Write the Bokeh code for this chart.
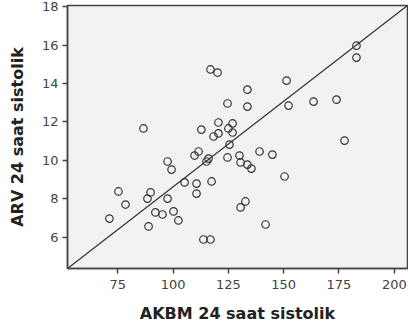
from bokeh.plotting import figure
from bokeh.models import Range1d, FixedTicker, ColumnDataSource
from bokeh.embed import file_html
from bokeh.resources import INLINE

# Data
akbm_sys = [71.2, 75.3, 78.5, 88.4, 89.8, 88.9, 92.0, 95.2, 97.5, 100.2,
            102.4, 105.2, 110.6, 110.6, 113.7, 116.9, 97.5, 99.3, 117.4, 150.4,
            132.7, 130.5, 141.8, 86.6, 112.8, 109.7, 111.5, 115.1, 116.0, 124.6,
            120.5, 118.3, 120.5, 125.0, 126.9, 126.9, 125.5, 124.6, 130.0, 130.5,
            133.6, 135.4, 139.1, 144.9, 116.9, 120.1, 133.6, 133.6, 151.3, 152.2,
            163.5, 173.9, 182.9, 182.9, 177.5]
arv_sys = [6.97, 8.38, 7.70, 8.01, 8.33, 6.56, 7.29, 7.18, 8.01, 7.34,
           6.87, 8.85, 8.79, 8.27, 5.88, 5.88, 9.94, 9.52, 8.90, 9.16,
           7.86, 7.55, 6.66, 11.66, 11.60, 10.25, 10.46, 9.94, 10.09, 12.96,
           11.97, 11.24, 11.40, 11.66, 11.92, 11.45, 10.82, 10.15, 10.25, 9.89,
           9.78, 9.57, 10.46, 10.30, 14.73, 14.57, 13.68, 12.80, 14.15, 12.85,
           13.06, 13.16, 15.97, 15.35, 11.03]

x_ticks = [75, 100, 125, 150, 175, 200]
y_ticks = [6, 8, 10, 12, 14, 16, 18]
x_lim = [52.26, 205.97]
y_lim = [4.37, 18.06]

x_title = "AKBM 24 saat sistolik"
y_title = "ARV 24 saat sistolik"

p = figure(width=408, height=334, output_backend="svg", toolbar_location=None,
           x_range=Range1d(x_lim[0], x_lim[1]), y_range=Range1d(y_lim[0], y_lim[1]),
           min_border_left=67, min_border_right=1, min_border_top=5,
           min_border_bottom=66)

p.background_fill_color = "#f2f2f2"
p.border_fill_color = "white"
p.outline_line_color = "#444444"
p.outline_line_width = 1.5
p.xgrid.visible = False
p.ygrid.visible = False

# reference line (corner to corner)
p.line(x=x_lim, y=y_lim, line_color="#333333", line_width=1.2)

src = ColumnDataSource(dict(x=akbm_sys, y=arv_sys))
p.scatter("x", "y", source=src, marker="circle", size=7.5, fill_color=None,
          line_color="#333333", line_width=1.2)

for ax, ticks in ((p.xaxis[0], x_ticks), (p.yaxis[0], y_ticks)):
    ax.ticker = FixedTicker(ticks=ticks)
    ax.axis_line_color = "#444444"
    ax.axis_line_width = 1.5
    ax.major_tick_line_color = "#444444"
    ax.major_tick_line_width = 1.5
    ax.major_tick_out = 5
    ax.major_tick_in = 0
    ax.minor_tick_line_color = None
    ax.major_label_text_font = "DejaVu Sans"
    ax.major_label_text_font_size = "13px"
    ax.major_label_text_color = "#444444"
    ax.axis_label_text_font = "DejaVu Sans"
    ax.axis_label_text_font_size = "16px"
    ax.axis_label_text_font_style = "bold"
    ax.axis_label_text_color = "#222222"

p.xaxis.axis_label = x_title
p.yaxis.axis_label = y_title
p.xaxis.major_label_standoff = 6
p.yaxis.major_label_standoff = 4
p.xaxis.axis_label_standoff = 12
p.yaxis.axis_label_standoff = 12

open("out.html", "w").write(file_html(p, INLINE))
